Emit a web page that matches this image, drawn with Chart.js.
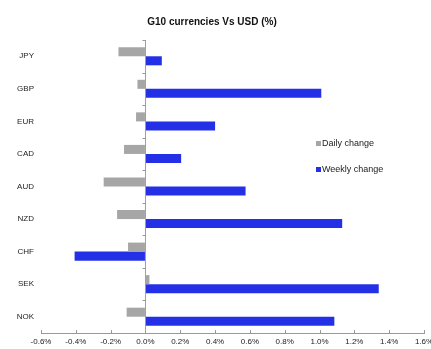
<!DOCTYPE html>
<html>
<head>
<meta charset="utf-8">
<script src="https://cdn.jsdelivr.net/npm/chart.js@4/dist/chart.umd.min.js"></script>
<style>
  html, body { margin: 0; padding: 0; background: #fff; }
  #wrap { width: 431px; height: 349px; }
</style>
</head>
<body>
<div id="wrap"><canvas id="fxChart"></canvas></div>
<script>
// chart data
const currencies = ['JPY', 'GBP', 'EUR', 'CAD', 'AUD', 'NZD', 'CHF', 'SEK', 'NOK'];
const dailyChange = [-0.155, -0.046, -0.054, -0.123, -0.24, -0.163, -0.10, 0.023, -0.108];
const weeklyChange = [0.094, 1.01, 0.40, 0.205, 0.575, 1.13, -0.407, 1.34, 1.085];
const xMin = -0.6;
const xMax = 1.6;
const xStep = 0.2;

const grey = '#a6a6a6';
const blue = '#2430e6';

// legend drawn inside the plot, like the original
const insideLegend = {
  id: 'insideLegend',
  afterDraw(chart) {
    const ctx = chart.ctx;
    ctx.save();
    ctx.font = '9px "Liberation Sans", Arial, sans-serif';
    ctx.textBaseline = 'middle';
    chart.data.datasets.forEach((ds, i) => {
      const y = 143.5 + i * 26;
      ctx.fillStyle = ds.backgroundColor;
      ctx.fillRect(316, y - 2.5, 5, 5);
      ctx.fillStyle = '#222';
      ctx.fillText(ds.label, 322, y);
    });
    ctx.restore();
  }
};

// small tick marks: on the zero line between categories, and pointing up on the x axis
const axisTicks = {
  id: 'axisTicks',
  afterDatasetsDraw(chart) {
    const ctx = chart.ctx;
    const xs = chart.scales.x;
    const ys = chart.scales.y;
    const x0 = xs.getPixelForValue(0);
    ctx.save();
    ctx.strokeStyle = '#999';
    ctx.lineWidth = 1;
    for (let i = 0; i <= currencies.length; i++) {
      const y = Math.round(ys.top + (ys.bottom - ys.top) * i / currencies.length) + 0.5;
      ctx.beginPath();
      ctx.moveTo(x0 - 3, y);
      ctx.lineTo(x0, y);
      ctx.stroke();
    }
    xs.ticks.forEach(t => {
      const x = Math.round(xs.getPixelForValue(t.value)) + 0.5;
      ctx.beginPath();
      ctx.moveTo(x, ys.bottom);
      ctx.lineTo(x, ys.bottom - 3);
      ctx.stroke();
    });
    ctx.restore();
  }
};

const ctx = document.getElementById('fxChart').getContext('2d');
const chart = new Chart(ctx, {
  type: 'bar',
  data: {
    labels: currencies,
    datasets: [
      {
        label: 'Daily change',
        data: dailyChange,
        backgroundColor: grey,
        categoryPercentage: 0.555,
        barPercentage: 1
      },
      {
        label: 'Weekly change',
        data: weeklyChange,
        backgroundColor: blue,
        categoryPercentage: 0.555,
        barPercentage: 1
      }
    ]
  },
  options: {
    indexAxis: 'y',
    responsive: true,
    maintainAspectRatio: false,
    animation: false,
    layout: { padding: { left: 0, right: 7, top: 0, bottom: 1 } },
    plugins: {
      legend: { display: false },
      tooltip: { enabled: false },
      title: {
        display: true,
        text: 'G10 currencies Vs USD (%)',
        color: '#111',
        font: { family: '"Liberation Sans", Arial, sans-serif', size: 10, weight: 'bold' },
        padding: { top: 16, bottom: 12 }
      }
    },
    scales: {
      x: {
        min: xMin,
        max: xMax,
        afterFit: s => { s.paddingLeft = 0; s.paddingRight = 0; s.height = 15; },
        ticks: {
          stepSize: xStep,
          maxRotation: 0,
          autoSkip: false,
          padding: 4,
          color: '#222',
          font: { family: '"Liberation Sans", Arial, sans-serif', size: 8 },
          callback: v => {
            const n = Math.abs(v) < 1e-9 ? 0 : v;
            return n.toFixed(1) + '%';
          }
        },
        grid: {
          drawOnChartArea: true,
          drawTicks: false,
          color: c => (c.tick && Math.abs(c.tick.value) < 1e-9) ? '#a0a0a0' : 'rgba(0,0,0,0)'
        },
        border: { display: true, color: '#999' }
      },
      y: {
        afterFit: s => { s.width = 41; },
        ticks: {
          padding: 7,
          color: '#222',
          font: { family: '"Liberation Sans", Arial, sans-serif', size: 8 }
        },
        grid: { display: false, drawTicks: false },
        border: { display: false }
      }
    }
  },
  plugins: [insideLegend, axisTicks]
});
</script>
</body>
</html>
